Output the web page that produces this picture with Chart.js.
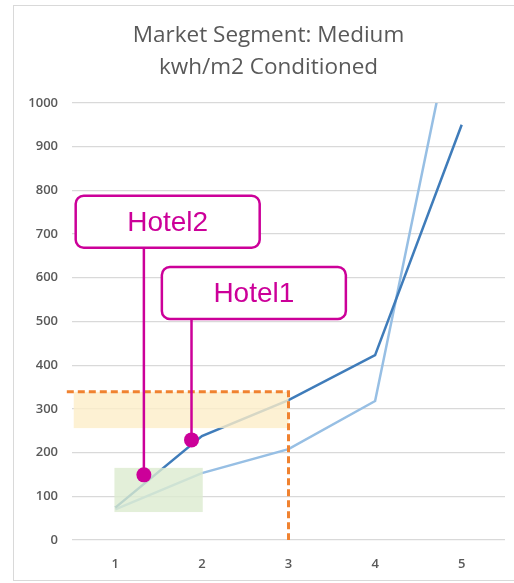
<!DOCTYPE html>
<html>
<head>
<meta charset="utf-8">
<script src="https://cdn.jsdelivr.net/npm/chart.js@4"></script>
<style>
  html, body { margin: 0; padding: 0; background: #fff; }
  #wrap { width: 514px; height: 583px; }
</style>
</head>
<body>
<div id="wrap"><canvas id="chart" width="514" height="583"></canvas></div>
<script>
// chart data
const categories = [1, 2, 3, 4, 5];
const yTicks = [0, 100, 200, 300, 400, 500, 600, 700, 800, 900, 1000];
const darkSeries = [74, 238, 320, 423, 950];
const lightSeries = [70, 153, 208, 318, 1280];

// highlight boxes (x from, x to, y from, y to) in data units
const yellowBox = [0.52, 3, 256, 339];
const greenBox = [0.99, 2.01, 64, 165];
// orange guide: x start, corner x, level
const guide = [0.44, 3, 339];

// callouts: label, point, box centre
const calloutLabels = ["Hotel2", "Hotel1"];
const calloutPoints = [[1.33, 149], [1.88, 229]];
const calloutBoxes = [[1.605, 728], [2.6, 565]];

const MAGENTA = "#cc0099";

const toXY = arr => arr.map((v, i) => ({ x: categories[i], y: v }));

const overlays = {
  id: "overlays",
  afterLayout(chart) {
    // title sits a little right of centre in the original
    if (chart.titleBlock) {
      chart.titleBlock.left += 9;
      chart.titleBlock.right += 9;
    }
  },
  beforeDraw(chart) {
    const ctx = chart.ctx;
    ctx.save();
    ctx.fillStyle = "#fff";
    ctx.fillRect(0, 0, chart.width, chart.height);
    ctx.strokeStyle = "#d9d9d9";
    ctx.lineWidth = 1;
    ctx.strokeRect(13.5, 5.5, chart.width, 575);
    ctx.restore();
  },
  afterDatasetsDraw(chart) {
    const ctx = chart.ctx;
    const xs = chart.scales.x, ys = chart.scales.y;
    const px = v => xs.getPixelForValue(v);
    const py = v => ys.getPixelForValue(v);
    ctx.save();

    // shaded boxes over the lines
    const box = (b, color) => {
      ctx.fillStyle = color;
      ctx.fillRect(px(b[0]), py(b[3]), px(b[1]) - px(b[0]), py(b[2]) - py(b[3]));
    };
    box(yellowBox, "rgba(253, 238, 200, 0.8)");
    box(greenBox, "rgba(220, 235, 208, 0.8)");

    // orange dashed guide
    ctx.strokeStyle = "#f08230";
    ctx.lineWidth = 3;
    ctx.setLineDash([7, 4]);
    ctx.beginPath();
    ctx.moveTo(px(guide[0]), py(guide[2]));
    ctx.lineTo(px(guide[1]), py(guide[2]));
    ctx.lineTo(px(guide[1]), py(0));
    ctx.stroke();
    ctx.setLineDash([]);

    // callouts
    const w = 184, h = 52;
    calloutLabels.forEach((label, i) => {
      const dx = px(calloutPoints[i][0]), dy = py(calloutPoints[i][1]);
      const cx = px(calloutBoxes[i][0]), cy = py(calloutBoxes[i][1]);
      ctx.strokeStyle = MAGENTA;
      ctx.lineWidth = 2.5;
      ctx.beginPath();
      ctx.moveTo(dx, cy + h / 2);
      ctx.lineTo(dx, dy);
      ctx.stroke();
      ctx.fillStyle = MAGENTA;
      ctx.beginPath();
      ctx.arc(dx, dy, 7.5, 0, Math.PI * 2);
      ctx.fill();

      ctx.fillStyle = "#fff";
      ctx.lineWidth = 2.5;
      ctx.beginPath();
      ctx.roundRect(cx - w / 2, cy - h / 2, w, h, 8);
      ctx.fill();
      ctx.stroke();
      ctx.fillStyle = MAGENTA;
      ctx.font = "28px 'Liberation Sans', Arial, sans-serif";
      ctx.textAlign = "center";
      ctx.textBaseline = "middle";
      ctx.fillText(label, cx, cy + 1);
    });
    ctx.restore();
  }
};

new Chart(document.getElementById("chart"), {
  type: "line",
  data: {
    datasets: [
      {
        label: "Series1",
        data: toXY(darkSeries),
        borderColor: "#3f7cba",
        borderWidth: 2.5,
        pointRadius: 0,
        tension: 0
      },
      {
        label: "Series2",
        data: toXY(lightSeries),
        borderColor: "#97bfe4",
        borderWidth: 2.5,
        pointRadius: 0,
        tension: 0
      }
    ]
  },
  options: {
    responsive: false,
    animation: false,
    layout: { padding: { left: 14, right: 9, top: 20, bottom: 8 } },
    scales: {
      x: {
        type: "linear",
        min: 0.5,
        max: 5.5,
        afterBuildTicks: s => { s.ticks = categories.map(v => ({ value: v })); },
        afterFit: s => { s.height = 35; },
        grid: { display: false },
        border: { display: false },
        ticks: { padding: 8, color: "#595959", font: { family: "'Open Sans'", size: 13, weight: "600" } }
      },
      y: {
        min: 0,
        max: 1000,
        afterBuildTicks: s => { s.ticks = yTicks.map(v => ({ value: v })); },
        afterFit: s => { s.width = 58; },
        grid: { color: "#d9d9d9", drawTicks: false, lineWidth: 1.2 },
        border: { display: false },
        ticks: {
          padding: 14,
          color: "#595959",
          font: { family: "'Open Sans'", size: 13, weight: "600" },
          callback: v => String(v)
        }
      }
    },
    plugins: {
      legend: { display: false },
      tooltip: { enabled: false },
      title: {
        display: true,
        text: ["Market Segment: Medium", "kwh/m2 Conditioned"],
        color: "#595959",
        font: { family: "'Open Sans'", size: 22.5, weight: "normal", lineHeight: 1.42 },
        padding: { top: 0, bottom: 19 }
      }
    }
  },
  plugins: [overlays]
});
</script>
</body>
</html>
